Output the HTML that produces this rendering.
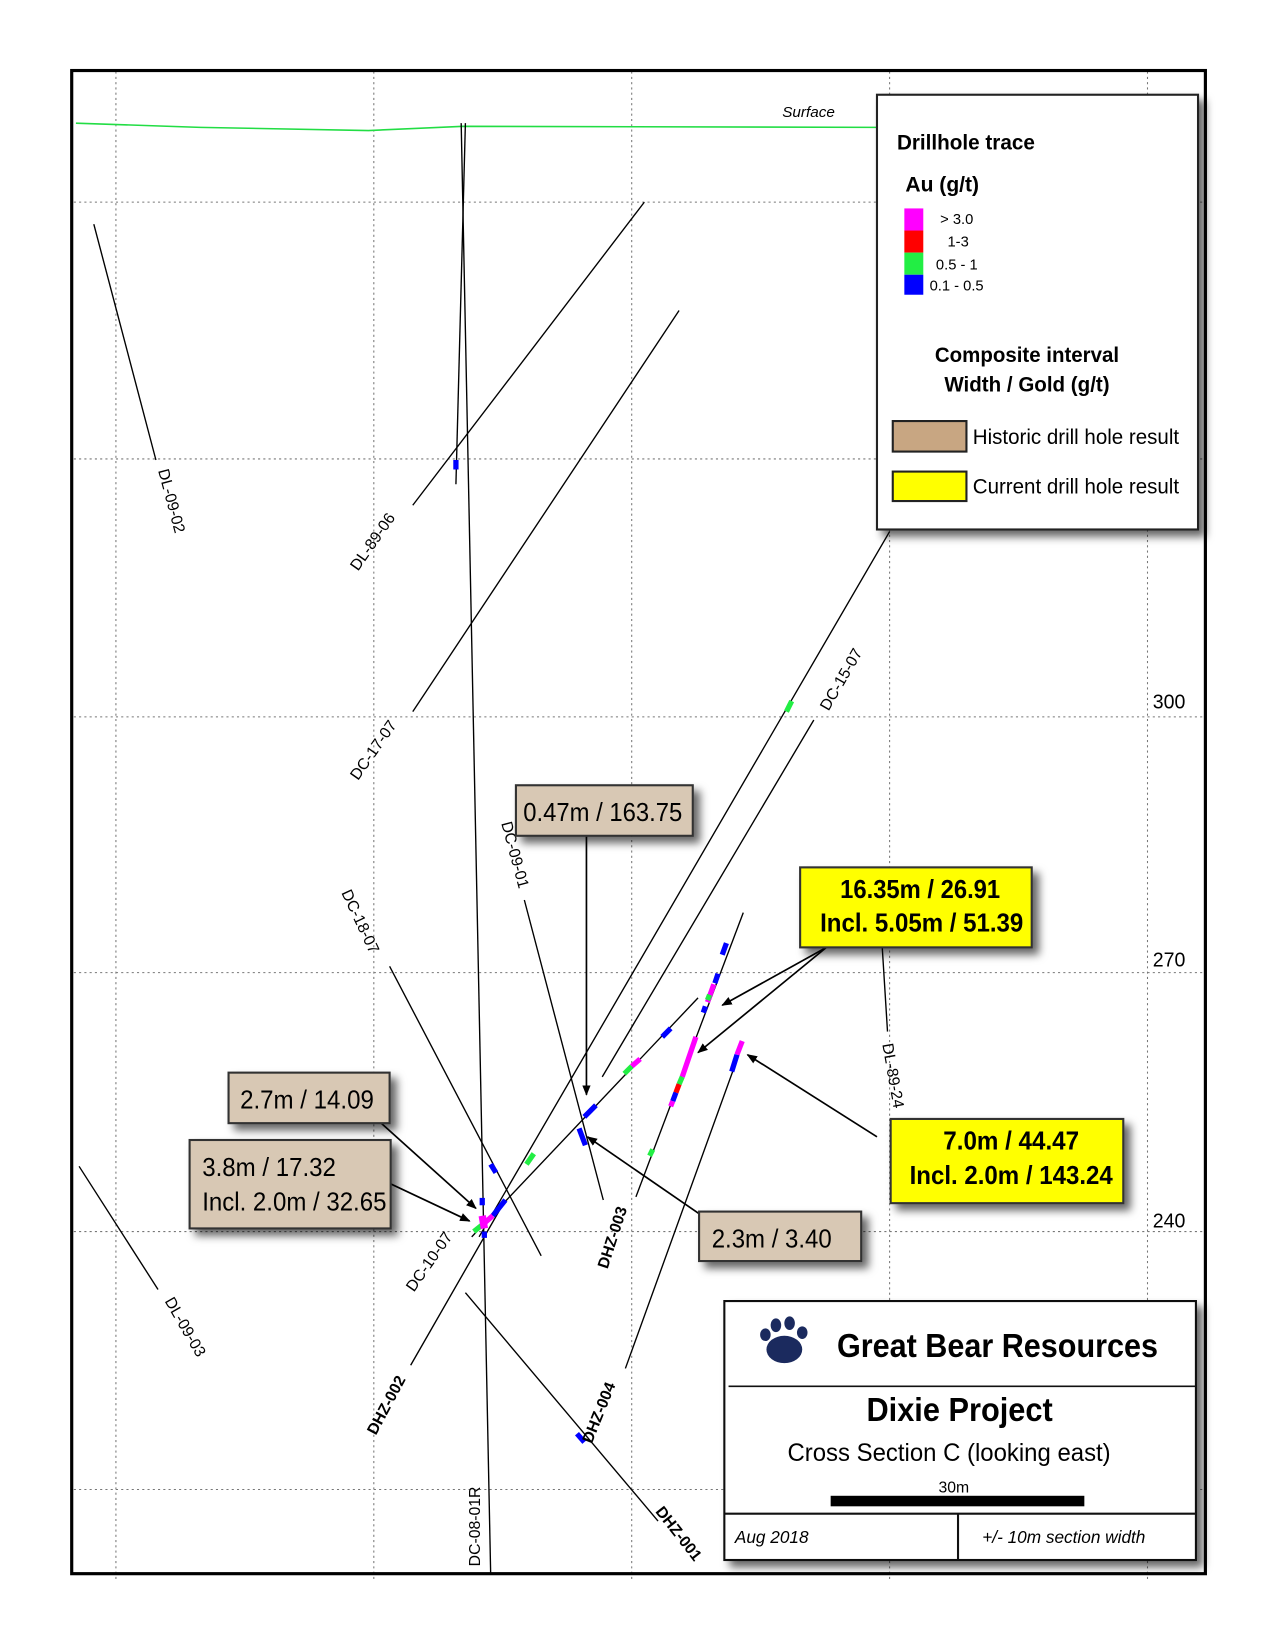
<!DOCTYPE html>
<html><head><meta charset="utf-8"><style>
html,body{margin:0;padding:0;background:#fff}
svg{display:block}
text{font-family:"Liberation Sans",sans-serif}
</style></head><body>
<svg width="1275" height="1650" viewBox="0 0 1211 1567.5" xmlns="http://www.w3.org/2000/svg">
<defs>
<filter id="sh" x="-20%" y="-20%" width="150%" height="150%"><feDropShadow dx="6" dy="6" stdDeviation="4" flood-color="#000" flood-opacity="0.6"/></filter>
<marker id="ar" markerWidth="10" markerHeight="8" refX="9" refY="4" orient="auto" markerUnits="userSpaceOnUse"><path d="M0,0 L10,4 L0,8 z" fill="#000"/></marker>
</defs>
<rect width="1211" height="1568" fill="#fff"/>
<g stroke="#777" stroke-width="1" stroke-dasharray="2,3">
<line x1="110" y1="68" x2="110" y2="1500"/><line x1="355" y1="68" x2="355" y2="1500"/><line x1="600" y1="68" x2="600" y2="1500"/><line x1="845" y1="68" x2="845" y2="1500"/><line x1="1090" y1="68" x2="1090" y2="1500"/>
<line x1="70" y1="192" x2="1143" y2="192"/><line x1="70" y1="436" x2="1143" y2="436"/><line x1="70" y1="681" x2="1143" y2="681"/><line x1="70" y1="924" x2="1143" y2="924"/><line x1="70" y1="1170" x2="1143" y2="1170"/><line x1="70" y1="1415" x2="1143" y2="1415"/>
</g>
<rect x="68" y="67" width="1077" height="1428" fill="none" stroke="#000" stroke-width="3"/>
<polyline points="72,117 190,121 350,124 440,120 833,121" fill="none" stroke="#22dd44" stroke-width="1.5"/>
<text x="743" y="111" font-size="14" font-style="italic" textLength="50" lengthAdjust="spacingAndGlyphs">Surface</text>
<g stroke="#000" stroke-width="1.3" fill="none">
<line x1="89" y1="213" x2="148" y2="437"/>
<line x1="438" y1="117" x2="466" y2="1495"/>
<line x1="442" y1="117" x2="433" y2="460"/>
<line x1="612" y1="192" x2="392" y2="480"/>
<line x1="645" y1="295" x2="392" y2="676"/>
<line x1="845" y1="505" x2="455" y2="1175"/>
<line x1="773" y1="684" x2="572" y2="1023"/>
<line x1="663" y1="948" x2="448" y2="1175"/>
<line x1="706" y1="867" x2="604" y2="1137"/>
<line x1="706" y1="990" x2="594" y2="1300"/>
<line x1="480" y1="1140" x2="390" y2="1297"/>
<line x1="498" y1="855" x2="573" y2="1140"/>
<line x1="370" y1="918" x2="514" y2="1193"/>
<line x1="442" y1="1228" x2="625" y2="1445"/>
<line x1="75" y1="1108" x2="150" y2="1225"/>
<line x1="838" y1="900" x2="843" y2="980"/>
</g>
<g stroke-width="5" stroke-linecap="butt">
<line x1="433" y1="437" x2="433" y2="446" stroke="#00f"/>
<line x1="752" y1="666" x2="747" y2="676" stroke="#2e4"/>
<line x1="690" y1="896" x2="686" y2="907" stroke="#00f"/>
<line x1="682" y1="925" x2="679" y2="934" stroke="#00f"/>
<line x1="678" y1="935" x2="672" y2="952" stroke="#f0f"/>
<line x1="674" y1="945" x2="672" y2="950" stroke="#2e4"/>
<line x1="670" y1="956" x2="668" y2="962" stroke="#00f"/>
<line x1="661" y1="985" x2="648" y2="1023" stroke="#f0f"/>
<line x1="648" y1="1023" x2="645" y2="1030" stroke="#2e4"/>
<line x1="645" y1="1030" x2="642" y2="1038" stroke="#f00"/>
<line x1="642" y1="1038" x2="639" y2="1046" stroke="#00f"/>
<line x1="639" y1="1046" x2="637" y2="1051" stroke="#f0f"/>
<line x1="705" y1="989" x2="700" y2="1002" stroke="#f0f"/>
<line x1="700" y1="1002" x2="695" y2="1018" stroke="#00f"/>
<line x1="620" y1="1092" x2="617" y2="1098" stroke="#2e4"/>
<line x1="637" y1="977" x2="629" y2="985" stroke="#00f"/>
<line x1="608" y1="1006" x2="600" y2="1013" stroke="#f0f"/>
<line x1="600" y1="1013" x2="593" y2="1020" stroke="#2e4"/>
<line x1="566" y1="1050" x2="555" y2="1061" stroke="#00f"/>
<line x1="550" y1="1072" x2="556" y2="1088" stroke="#00f"/>
<line x1="507" y1="1096" x2="500" y2="1106" stroke="#2e4"/>
<line x1="466" y1="1106" x2="471" y2="1114" stroke="#00f"/>
<line x1="458" y1="1138" x2="458" y2="1145" stroke="#00f"/>
<line x1="480" y1="1140" x2="468" y2="1155" stroke="#00f"/>
<line x1="468" y1="1155" x2="460" y2="1162" stroke="#f0f"/>
<line x1="460" y1="1162" x2="450" y2="1170" stroke="#2e4"/>
<line x1="458" y1="1155" x2="460" y2="1167" stroke="#f0f" stroke-width="7"/>
<line x1="460" y1="1170" x2="460" y2="1176" stroke="#00f"/>
<line x1="548" y1="1362" x2="555" y2="1370" stroke="#00f"/>
</g>
<g font-size="15">
<text transform="translate(150,447) rotate(75)">DL-09-02</text>
<text transform="translate(340,543) rotate(-55)">DL-89-06</text>
<text transform="translate(340,742) rotate(-55)">DC-17-07</text>
<text transform="translate(787,676) rotate(-60)">DC-15-07</text>
<text transform="translate(476,782) rotate(75)">DC-09-01</text>
<text transform="translate(324,848) rotate(65)">DC-18-07</text>
<text transform="translate(393,1228) rotate(-55)">DC-10-07</text>
<text transform="translate(838,992) rotate(80)">DL-89-24</text>
<text transform="translate(156,1236) rotate(60)">DL-09-03</text>
<text transform="translate(456,1488) rotate(-90)">DC-08-01R</text>
<text font-weight="bold" transform="translate(577,1206) rotate(-72)">DHZ-003</text>
<text font-weight="bold" transform="translate(562,1372) rotate(-68)">DHZ-004</text>
<text font-weight="bold" transform="translate(357,1364) rotate(-62)">DHZ-002</text>
<text font-weight="bold" transform="translate(622,1436) rotate(52)">DHZ-001</text>
</g>
<g font-size="19"><text x="1095" y="673" textLength="31" lengthAdjust="spacingAndGlyphs">300</text><text x="1095" y="918" textLength="31" lengthAdjust="spacingAndGlyphs">270</text><text x="1095" y="1166" textLength="31" lengthAdjust="spacingAndGlyphs">240</text></g>
<g stroke="#000" stroke-width="1.6" marker-end="url(#ar)">
<line x1="557" y1="794" x2="557" y2="1040"/>
<line x1="785" y1="900" x2="686" y2="955"/>
<line x1="785" y1="900" x2="663" y2="1000"/>
<line x1="833" y1="1080" x2="710" y2="1002"/>
<line x1="362" y1="1067" x2="452" y2="1148"/>
<line x1="340" y1="1110" x2="446" y2="1160"/>
<line x1="664" y1="1153" x2="558" y2="1080"/>
</g>
<g stroke="#333" stroke-width="2" filter="url(#sh)">
<rect x="490" y="746" width="168" height="48" fill="#d8c8b4"/>
<rect x="760" y="824" width="220" height="76" fill="#ffff00"/>
<rect x="846" y="1063" width="221" height="80" fill="#ffff00"/>
<rect x="217" y="1019" width="153" height="48" fill="#d8c8b4"/>
<rect x="180" y="1083" width="191" height="84" fill="#d8c8b4"/>
<rect x="664" y="1151" width="154" height="47" fill="#d8c8b4"/>
</g>
<g font-size="25" lengthAdjust="spacingAndGlyphs">
<text x="497" y="780" textLength="151" lengthAdjust="spacingAndGlyphs">0.47m / 163.75</text>
<text x="798" y="853" font-weight="bold" textLength="152" lengthAdjust="spacingAndGlyphs">16.35m / 26.91</text>
<text x="779" y="885" font-weight="bold" textLength="193" lengthAdjust="spacingAndGlyphs">Incl. 5.05m / 51.39</text>
<text x="896" y="1092" font-weight="bold" textLength="129" lengthAdjust="spacingAndGlyphs">7.0m / 44.47</text>
<text x="864" y="1125" font-weight="bold" textLength="193" lengthAdjust="spacingAndGlyphs">Incl. 2.0m / 143.24</text>
<text x="228" y="1053" textLength="127" lengthAdjust="spacingAndGlyphs">2.7m / 14.09</text>
<text x="192" y="1117" textLength="127" lengthAdjust="spacingAndGlyphs">3.8m / 17.32</text>
<text x="192" y="1150" textLength="175" lengthAdjust="spacingAndGlyphs">Incl. 2.0m / 32.65</text>
<text x="676" y="1185" textLength="114" lengthAdjust="spacingAndGlyphs">2.3m / 3.40</text>
</g>
<rect x="833" y="90" width="305" height="413" fill="#fff" stroke="#222" stroke-width="2" filter="url(#sh)"/>
<text x="852" y="142" font-size="20" font-weight="bold" textLength="131" lengthAdjust="spacingAndGlyphs">Drillhole trace</text>
<text x="860" y="182" font-size="20" font-weight="bold" textLength="70" lengthAdjust="spacingAndGlyphs">Au (g/t)</text>
<rect x="859" y="198" width="18" height="21" fill="#f0f"/><rect x="859" y="219" width="18" height="21" fill="#f00"/><rect x="859" y="240" width="18" height="21" fill="#2e4"/><rect x="859" y="261" width="18" height="19" fill="#00f"/>
<g font-size="14"><text x="893" y="213">&gt; 3.0</text><text x="900" y="234">1-3</text><text x="889" y="256">0.5 - 1</text><text x="883" y="276">0.1 - 0.5</text></g>
<g font-size="20" font-weight="bold"><text x="888" y="344" textLength="175" lengthAdjust="spacingAndGlyphs">Composite interval</text><text x="897" y="372" textLength="157" lengthAdjust="spacingAndGlyphs">Width / Gold (g/t)</text></g>
<rect x="848" y="400" width="70" height="29" fill="#c8a682" stroke="#222" stroke-width="2"/>
<rect x="848" y="448" width="70" height="28" fill="#ffff00" stroke="#222" stroke-width="2"/>
<g font-size="20"><text x="924" y="422" textLength="196" lengthAdjust="spacingAndGlyphs">Historic drill hole result</text><text x="924" y="469" textLength="196" lengthAdjust="spacingAndGlyphs">Current drill hole result</text></g>
<rect x="688" y="1236" width="448" height="246" fill="#fff" stroke="#111" stroke-width="2" filter="url(#sh)"/>
<line x1="692" y1="1317" x2="1136" y2="1317" stroke="#111" stroke-width="1.5"/>
<line x1="688" y1="1438" x2="1136" y2="1438" stroke="#111" stroke-width="2"/>
<line x1="910" y1="1438" x2="910" y2="1482" stroke="#111" stroke-width="2"/>
<g fill="#1b2a5e">
<ellipse cx="745" cy="1282" rx="17" ry="13"/>
<ellipse cx="727" cy="1268" rx="5" ry="6"/><ellipse cx="737" cy="1259" rx="5" ry="6.5"/><ellipse cx="750" cy="1257" rx="5" ry="6.5"/><ellipse cx="762" cy="1266" rx="5" ry="6"/>
</g>
<text x="795" y="1289" font-size="32" font-weight="bold" textLength="305" lengthAdjust="spacingAndGlyphs">Great Bear Resources</text>
<text x="823" y="1350" font-size="32" font-weight="bold" textLength="177" lengthAdjust="spacingAndGlyphs">Dixie Project</text>
<text x="748" y="1388" font-size="24" textLength="307" lengthAdjust="spacingAndGlyphs">Cross Section C (looking east)</text>
<text x="906" y="1418" font-size="15" text-anchor="middle">30m</text>
<rect x="789" y="1421" width="241" height="10" fill="#000"/>
<text x="698" y="1466" font-size="17" font-style="italic" textLength="70" lengthAdjust="spacingAndGlyphs">Aug 2018</text>
<text x="933" y="1466" font-size="17" font-style="italic" textLength="155" lengthAdjust="spacingAndGlyphs">+/- 10m section width</text>
</svg>
</body></html>
